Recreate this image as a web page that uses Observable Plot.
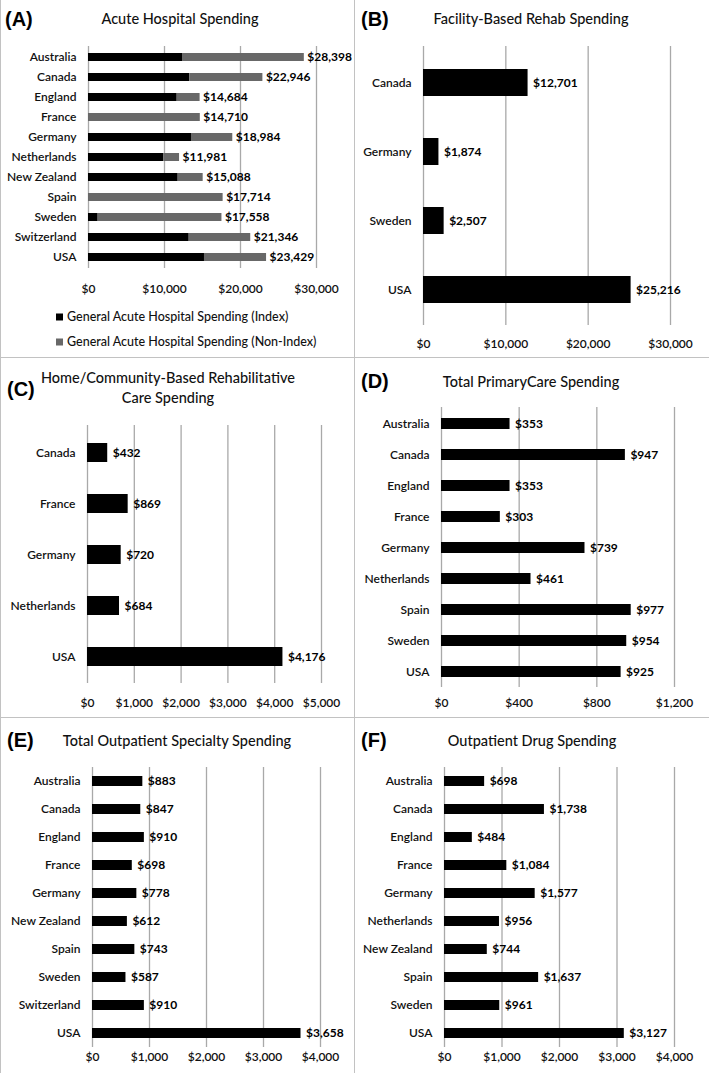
<!DOCTYPE html>
<html><head><meta charset="utf-8">
<script src="https://cdn.jsdelivr.net/npm/d3@7"></script>
<script src="https://cdn.jsdelivr.net/npm/@observablehq/plot@0.6"></script>
<style>
body{margin:0;background:#fff;}
#root{position:relative;width:709px;height:1073px;overflow:hidden;background:#fff;font-family:Lato,"Open Sans",sans-serif;color:#111;}
.box{position:absolute;box-sizing:border-box;border:1.5px solid #c2c2c2;pointer-events:none;}
.chart{position:absolute;}
.chart svg{display:block;overflow:visible;}
.tag{position:absolute;font-family:"Liberation Sans",Arial,sans-serif;font-size:20px;font-weight:bold;color:#000;line-height:1;transform:translateY(-50%);white-space:nowrap;}
.title{position:absolute;font-size:14.5px;font-weight:500;text-align:center;line-height:20px;white-space:nowrap;transform:translate(-50%,-50%);color:#111;}
.leg{position:absolute;font-size:12.5px;font-weight:500;white-space:nowrap;transform:translateY(-50%);color:#111;}
.leg i{display:inline-block;width:7px;height:7px;margin-right:4px;vertical-align:0px;}
</style>
</head><body><div id="root"></div>
<script>
// ---------- data ----------
const acuteCountries = ["Australia","Canada","England","France","Germany","Netherlands","New Zealand","Spain","Sweden","Switzerland","USA"];
const acuteIndex = [12370, 13330, 11670, 0, 13550, 9910, 11800, 0, 1270, 13250, 15260];
const acuteTotal = [28398, 22946, 14684, 14710, 18984, 11981, 15088, 17714, 17558, 21346, 23429];
const acuteTicks = [0, 10000, 20000, 30000];

const rehabCountries = ["Canada","Germany","Sweden","USA"];
const rehabValues = [12701, 1874, 2507, 25216];
const rehabTicks = [0, 10000, 20000, 30000];

const homeCountries = ["Canada","France","Germany","Netherlands","USA"];
const homeValues = [432, 869, 720, 684, 4176];
const homeTicks = [0, 1000, 2000, 3000, 4000, 5000];

const primaryCountries = ["Australia","Canada","England","France","Germany","Netherlands","Spain","Sweden","USA"];
const primaryValues = [353, 947, 353, 303, 739, 461, 977, 954, 925];
const primaryTicks = [0, 400, 800, 1200];

const specialtyCountries = ["Australia","Canada","England","France","Germany","New Zealand","Spain","Sweden","Switzerland","USA"];
const specialtyValues = [883, 847, 910, 698, 778, 612, 743, 587, 910, 3658];
const specialtyTicks = [0, 1000, 2000, 3000, 4000];

const drugCountries = ["Australia","Canada","England","France","Germany","Netherlands","New Zealand","Spain","Sweden","USA"];
const drugValues = [698, 1738, 484, 1084, 1577, 956, 744, 1637, 961, 3127];
const drugTicks = [0, 1000, 2000, 3000, 4000];

const legendLabels = ["General Acute Hospital Spending (Index)", "General Acute Hospital Spending (Non-Index)"];
const colIndex = "#000000", colNonIndex = "#686868";

// ---------- helpers ----------
const root = document.getElementById("root");
const money = v => "$" + d3.format(",")(v);

function el(cls, css, html) {
  const d = document.createElement("div");
  d.className = cls;
  Object.assign(d.style, css);
  if (html != null) d.innerHTML = html;
  root.appendChild(d);
  return d;
}

function chart({left, top, width, height, mL, mR, mT, mB, countries, ticks, pad, tickPad, bars, labels, labelDx = 5}) {
  const svg = Plot.plot({
    width, height,
    marginLeft: mL, marginRight: mR, marginTop: mT, marginBottom: mB,
    style: {background: "transparent", fontFamily: "Lato, sans-serif", fontSize: "12px", color: "#111", overflow: "visible"},
    x: {domain: [0, ticks[ticks.length - 1]], label: null},
    y: {domain: countries, paddingInner: pad, paddingOuter: pad / 2, label: null},
    marks: [
      Plot.gridX(ticks, {stroke: "#a9a9a9", strokeOpacity: 1, strokeWidth: 1.3}),
      ...bars,
      Plot.text(labels, {x: "v", y: "c", text: d => money(d.v), dx: labelDx, textAnchor: "start", fontWeight: 700, fontSize: 12, fill: "#000"}),
      Plot.axisX(ticks, {tickSize: 0, tickPadding: tickPad, tickFormat: money, fontWeight: 600, fontSize: 12, fill: "#111", label: null}),
      Plot.axisY({tickSize: 0, tickPadding: 12, fontWeight: 600, fontSize: 12, fill: "#111", label: null})
    ]
  });
  const wrap = el("chart", {left: left + "px", top: top + "px"});
  wrap.appendChild(svg);
}

// ---------- panel frames ----------
const frames = [[0,-2,355,360],[354,-2,358,360],[0,357,355,361],[354,357,358,361],[0,717,355,362],[354,717,358,362]];

// ---------- (A) ----------
const acuteData = acuteCountries.map((c, i) => ({c, i: acuteIndex[i], v: acuteTotal[i]}));
chart({left: 0, top: 0, width: 354, height: 357, mL: 88, mR: 38, mT: 46, mB: 89,
  countries: acuteCountries, ticks: acuteTicks, pad: 0.6, tickPad: 16, labelDx: 3,
  bars: [
    Plot.barX(acuteData, {y: "c", x1: 0, x2: "i", fill: colIndex}),
    Plot.barX(acuteData, {y: "c", x1: "i", x2: "v", fill: colNonIndex})
  ],
  labels: acuteData});
el("tag", {left: "5px", top: "19px"}, "(A)");
el("title", {left: "180px", top: "19px"}, "Acute Hospital Spending");
el("leg", {left: "56px", top: "316px"}, `<i style="background:${colIndex}"></i>${legendLabels[0]}`);
el("leg", {left: "56px", top: "341px"}, `<i style="background:${colNonIndex}"></i>${legendLabels[1]}`);

// ---------- (B) ----------
const rehabData = rehabCountries.map((c, i) => ({c, v: rehabValues[i]}));
chart({left: 354, top: 0, width: 355, height: 357, mL: 69, mR: 39, mT: 46, mB: 32,
  countries: rehabCountries, ticks: rehabTicks, pad: 0.61, tickPad: 14,
  bars: [Plot.barX(rehabData, {y: "c", x: "v", fill: colIndex})],
  labels: rehabData});
el("tag", {left: "361px", top: "19px"}, "(B)");
el("title", {left: "531px", top: "19px"}, "Facility-Based Rehab Spending");

// ---------- (C) ----------
const homeData = homeCountries.map((c, i) => ({c, v: homeValues[i]}));
chart({left: 0, top: 357, width: 354, height: 360, mL: 87, mR: 33, mT: 68, mB: 34,
  countries: homeCountries, ticks: homeTicks, pad: 0.63, tickPad: 15,
  bars: [Plot.barX(homeData, {y: "c", x: "v", fill: colIndex})],
  labels: homeData});
el("tag", {left: "7px", top: "389px"}, "(C)");
el("title", {left: "168px", top: "378px"}, "Home/Community-Based Rehabilitative");
el("title", {left: "168px", top: "398px"}, "Care Spending");

// ---------- (D) ----------
const primaryData = primaryCountries.map((c, i) => ({c, v: primaryValues[i]}));
chart({left: 354, top: 357, width: 355, height: 360, mL: 87, mR: 35, mT: 50, mB: 30,
  countries: primaryCountries, ticks: primaryTicks, pad: 0.65, tickPad: 11,
  bars: [Plot.barX(primaryData, {y: "c", x: "v", fill: colIndex})],
  labels: primaryData});
el("tag", {left: "361px", top: "381px"}, "(D)");
el("title", {left: "531px", top: "382px"}, "Total PrimaryCare Spending");

// ---------- (E) ----------
const specialtyData = specialtyCountries.map((c, i) => ({c, v: specialtyValues[i]}));
chart({left: 0, top: 717, width: 354, height: 356, mL: 92, mR: 34, mT: 50, mB: 26,
  countries: specialtyCountries, ticks: specialtyTicks, pad: 0.64, tickPad: 5,
  bars: [Plot.barX(specialtyData, {y: "c", x: "v", fill: colIndex})],
  labels: specialtyData});
el("tag", {left: "7px", top: "740px"}, "(E)");
el("title", {left: "177px", top: "741px"}, "Total Outpatient Specialty Spending");

// ---------- (F) ----------
const drugData = drugCountries.map((c, i) => ({c, v: drugValues[i]}));
chart({left: 354, top: 717, width: 355, height: 356, mL: 90, mR: 35, mT: 50, mB: 26,
  countries: drugCountries, ticks: drugTicks, pad: 0.64, tickPad: 5,
  bars: [Plot.barX(drugData, {y: "c", x: "v", fill: colIndex})],
  labels: drugData});
el("tag", {left: "361px", top: "740px"}, "(F)");
el("title", {left: "532px", top: "741px"}, "Outpatient Drug Spending");

frames.forEach(([l, t, w, h]) => el("box", {left: l + "px", top: t + "px", width: w + "px", height: h + "px"}));
</script></body></html>
